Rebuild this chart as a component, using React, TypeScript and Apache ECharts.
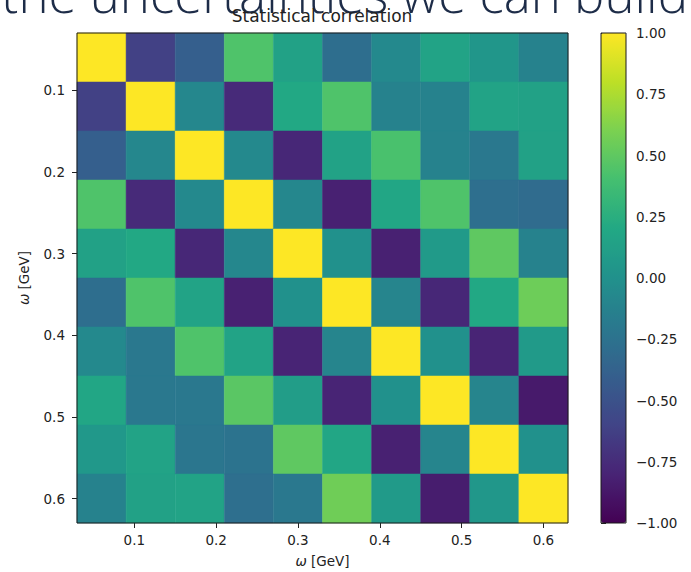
import React, { useEffect, useRef } from "react";
import * as echarts from "echarts";

// bin centres (GeV) along both axes
const omega = [0.06, 0.12, 0.18, 0.24, 0.3, 0.36, 0.42, 0.48, 0.54, 0.6];
const axisTicks = [0.1, 0.2, 0.3, 0.4, 0.5, 0.6];
const colorbarTicks = [-1, -0.75, -0.5, -0.25, 0, 0.25, 0.5, 0.75, 1];

// correlation matrix rows (top row = smallest omega)
const row0 = [1, -0.62, -0.4, 0.44, 0.14, -0.28, -0.06, 0.16, 0.04, -0.12];
const row1 = [-0.62, 1, -0.08, -0.76, 0.2, 0.44, -0.12, -0.12, 0.16, 0.14];
const row2 = [-0.4, -0.08, 1, -0.06, -0.78, 0.15, 0.42, -0.12, -0.2, 0.14];
const row3 = [0.44, -0.76, -0.06, 1, -0.08, -0.82, 0.18, 0.44, -0.27, -0.3];
const row4 = [0.14, 0.2, -0.78, -0.08, 1, 0.0, -0.82, 0.08, 0.5, -0.12];
const row5 = [-0.28, 0.44, 0.16, -0.82, 0.0, 1, -0.1, -0.78, 0.2, 0.55];
const row6 = [-0.06, -0.2, 0.44, 0.16, -0.8, -0.1, 1, 0.0, -0.8, 0.08];
const row7 = [0.18, -0.2, -0.2, 0.48, 0.1, -0.8, 0.0, 1, -0.1, -0.86];
const row8 = [0.06, 0.16, -0.22, -0.24, 0.5, 0.18, -0.82, -0.1, 1, 0.0];
const row9 = [-0.12, 0.14, 0.16, -0.27, -0.2, 0.56, 0.08, -0.84, 0.05, 1];
const correlation = [row0, row1, row2, row3, row4, row5, row6, row7, row8, row9];

const viridis = [
  "#440154", "#482475", "#414487", "#355f8d", "#2a788e", "#21918c",
  "#22a884", "#44bf70", "#7ad151", "#bddf26", "#fde725",
];

const headline = "the uncertainties we can build";
const titleText = "Statistical correlation";

const fmt = (v: number) => {
  const s = Math.abs(v).toFixed(2);
  return v < -1e-9 ? "\u2212" + s : s;
};

export default function App() {
  const ref = useRef<HTMLDivElement>(null);
  useEffect(() => {
    if (!ref.current) return;
    const chart = echarts.init(ref.current, null, { renderer: "svg" });
    const data: number[][] = [];
    correlation.forEach((row, r) =>
      row.forEach((v, c) => data.push([omega[c], omega[r], v]))
    );
    const half = (omega[1] - omega[0]) / 2;
    const lo = omega[0] - half;
    const hi = omega[omega.length - 1] + half;
    const font = "DejaVu Sans";
    const tc = "#222";
    const fs = 13.5;
    chart.setOption({
      animation: false,
      backgroundColor: "#fff",
      textStyle: { fontFamily: font },
      title: {
        text: titleText,
        left: 322,
        top: 7,
        padding: 0,
        textAlign: "center",
        textStyle: { fontFamily: font, fontSize: 17, fontWeight: "normal", color: tc },
      },
      graphic: [
        {
          type: "text",
          x: 688,
          y: -7,
          z: -1,
          style: {
            text: headline,
            fill: "#1d2c48",
            font: "300 51px 'Open Sans', 'DejaVu Sans', sans-serif",
            textAlign: "right",
            textVerticalAlign: "middle",
          },
        },
      ],
      grid: [
        {
          left: 77, top: 33, width: 491, height: 490,
          outerBoundsMode: "none", containLabel: false,
          show: true, z: 5, borderColor: "#1a1a1a", borderWidth: 1,
          backgroundColor: "transparent",
        },
        {
          left: 601, top: 33, width: 25, height: 490,
          outerBoundsMode: "none", containLabel: false,
          show: true, z: 6, borderColor: "#1a1a1a", borderWidth: 1,
          backgroundColor: "transparent",
        },
      ],
      xAxis: [
        {
          type: "value", gridIndex: 0, min: lo, max: hi,
          name: "{i|\u03c9} [GeV]", nameLocation: "middle", nameGap: 31,
          nameTextStyle: {
            fontFamily: font, fontSize: fs, color: tc,
            rich: { i: { fontStyle: "italic", fontFamily: font, fontSize: fs, color: tc } },
          },
          splitLine: { show: false },
          axisLine: { show: false },
          axisTick: { show: true, length: 5, lineStyle: { color: tc }, customValues: axisTicks },
          axisLabel: {
            color: tc, fontSize: fs, margin: 10, customValues: axisTicks,
            formatter: (v: number) => v.toFixed(1),
          },
        },
        { type: "value", gridIndex: 1, show: false, min: 0, max: 1 },
      ],
      yAxis: [
        {
          type: "value", gridIndex: 0, min: lo, max: hi, inverse: true,
          name: "{i|\u03c9} [GeV]", nameLocation: "middle", nameGap: 46, nameRotate: 90,
          nameTextStyle: {
            fontFamily: font, fontSize: fs, color: tc,
            rich: { i: { fontStyle: "italic", fontFamily: font, fontSize: fs, color: tc } },
          },
          splitLine: { show: false },
          axisLine: { show: false },
          axisTick: { show: true, length: 5, lineStyle: { color: tc }, customValues: axisTicks },
          axisLabel: {
            color: tc, fontSize: fs, margin: 12, customValues: axisTicks,
            formatter: (v: number) => v.toFixed(1),
          },
        },
        {
          type: "value", gridIndex: 1, position: "right",
          min: colorbarTicks[0], max: colorbarTicks[colorbarTicks.length - 1], interval: 0.25,
          splitLine: { show: false },
          axisLine: { show: false },
          axisTick: { show: true, length: 5, lineStyle: { color: tc } },
          axisLabel: { color: tc, fontSize: fs, margin: 10, formatter: fmt },
        },
      ],
      visualMap: {
        type: "continuous",
        min: -1, max: 1,
        dimension: 2,
        seriesIndex: 0,
        calculable: false,
        left: 601, top: 33,
        itemWidth: 25, itemHeight: 490,
        padding: 0,
        text: ["", ""],
        textGap: 0,
        hoverLink: false,
        inRange: { color: viridis },
      },
      series: [
        {
          type: "custom",
          xAxisIndex: 0, yAxisIndex: 0,
          encode: { x: 0, y: 1 },
          data,
          renderItem: (params: any, api: any) => {
            const x = api.value(0), y = api.value(1);
            const p0 = api.coord([x - half, y - half]);
            const p1 = api.coord([x + half, y + half]);
            const col = api.visual("color");
            return {
              type: "rect",
              shape: {
                x: Math.min(p0[0], p1[0]), y: Math.min(p0[1], p1[1]),
                width: Math.abs(p1[0] - p0[0]), height: Math.abs(p1[1] - p0[1]),
              },
              style: { fill: col, stroke: col, lineWidth: 0.5 },
            };
          },
        },
      ],
    });
    return () => chart.dispose();
  }, []);
  return (
    <div
      ref={ref}
      style={{ position: "fixed", left: 0, top: 0, width: 691, height: 572, background: "#fff" }}
    />
  );
}
